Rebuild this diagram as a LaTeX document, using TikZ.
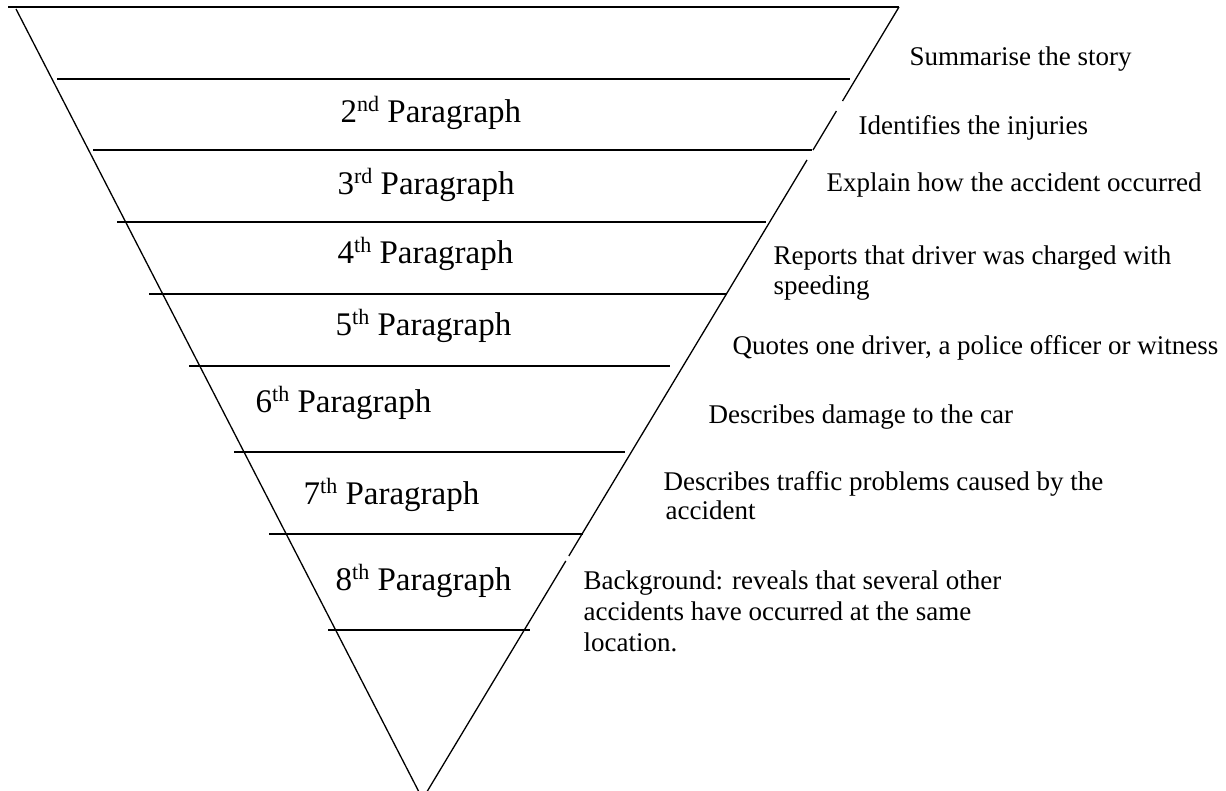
\documentclass[tikz,border=0pt]{standalone}
\usepackage{fontspec}
\setmainfont{Liberation Serif}
\newcommand\supx[1]{\raisebox{11pt}{\fontsize{22}{22}\selectfont #1}}
\begin{document}
\begin{tikzpicture}[x=1pt,y=-1pt,line width=1.3pt,
  para/.style={anchor=base west,inner sep=0pt,font=\fontsize{33}{36}\selectfont},
  desc/.style={anchor=base west,inner sep=0pt,font=\fontsize{27}{30}\selectfont}]
\useasboundingbox (0,0) rectangle (1226,791);
\clip (0,0) rectangle (1226,791);
% triangle
\coordinate (TL) at (16,9);
\coordinate (TR) at (899,7);
\coordinate (Ap) at (422.6,799);
\coordinate (r1) at (842.5,101);
\coordinate (r2) at (836.4,111);
\coordinate (r3) at (813.0,150);
\coordinate (r4) at (807.0,160);
\coordinate (r5) at (568.8,556);
\coordinate (r6) at (565.8,561);
\draw (TL) -- (Ap);
\draw (TR) -- (r1);
\draw (r2) -- (r3);
\draw (r4) -- (r5);
\draw (r6) -- (Ap);
% horizontal lines
\coordinate (h0a) at (8,7);     \coordinate (h0b) at (899,7);
\coordinate (h1a) at (57,79);   \coordinate (h1b) at (850,79);
\coordinate (h2a) at (93,150);  \coordinate (h2b) at (812,150);
\coordinate (h3a) at (117,222); \coordinate (h3b) at (766,222);
\coordinate (h4a) at (149,294); \coordinate (h4b) at (727,294);
\coordinate (h5a) at (189,366); \coordinate (h5b) at (670,366);
\coordinate (h6a) at (234,452); \coordinate (h6b) at (625,452);
\coordinate (h7a) at (269,534); \coordinate (h7b) at (583,534);
\coordinate (h8a) at (328,630); \coordinate (h8b) at (530,630);
\foreach \i in {0,...,8} {\draw (h\i a) -- (h\i b);}
% paragraph labels
\node[para] (p2) at (340,123) {2\supx{nd} Paragraph};
\node[para] (p3) at (337,195) {3\supx{rd} Paragraph};
\node[para] (p4) at (337,264) {4\supx{th} Paragraph};
\node[para] (p5) at (335,336) {5\supx{th} Paragraph};
\node[para] (p6) at (255,413) {6\supx{th} Paragraph};
\node[para] (p7) at (303,504) {7\supx{th} Paragraph};
\node[para] (p8) at (335,590) {8\supx{th} Paragraph};
% descriptions
\node[desc] (d1) at (909,66) {Summarise the story};
\node[desc] (d2) at (858,135) {Identifies the injuries};
\node[desc] (d3) at (826,192) {Explain how the accident occurred};
\node[desc] (d4a) at (773,265) {Reports that driver was charged with};
\node[desc] (d4b) at (773,295) {speeding};
\node[desc] (d5) at (732,355) {Quotes one driver, a police officer or witness};
\node[desc] (d6) at (708,423) {Describes damage to the car};
\node[desc] (d7a) at (663,490) {Describes traffic problems caused by the};
\node[desc] (d7b) at (665,519) {accident};
\node[desc] (d8a) at (583,589) {Background: reveals that several other};
\node[desc] (d8b) at (583,620) {accidents have occurred at the same};
\node[desc] (d8c) at (583,651) {location.};
\end{tikzpicture}
\end{document}
